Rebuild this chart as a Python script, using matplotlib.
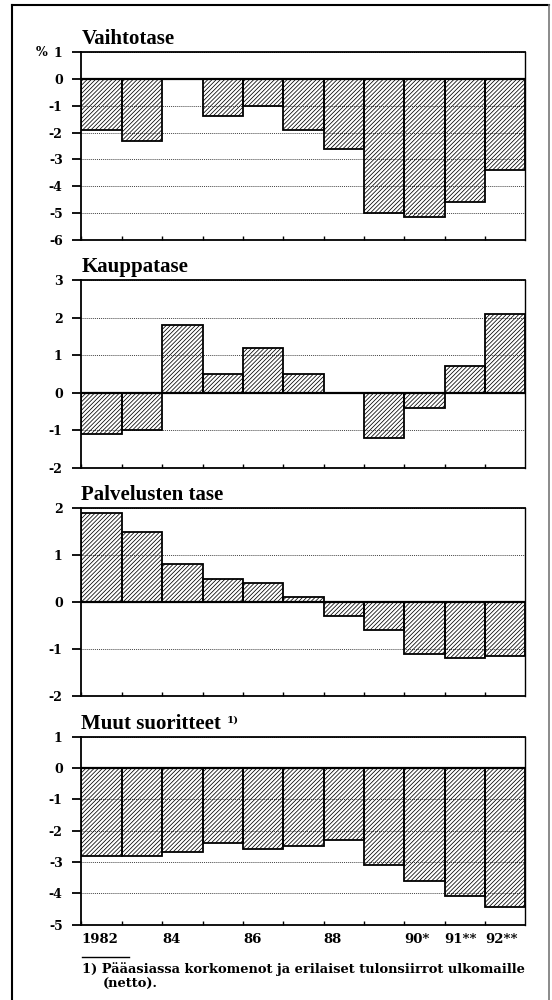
import numpy as np
import matplotlib
matplotlib.use("Agg")
import matplotlib.pyplot as plt
from matplotlib.lines import Line2D

# vuodet 1982-1992, % BKT:sta
years = ['1982', '', '84', '', '86', '', '88', '', '90*', '91**', '92**']
vaihtotase = [-1.9, -2.3, 0.0, -1.4, -1.0, -1.9, -2.6, -5.0, -5.15, -4.6, -3.4]
kauppatase = [-1.1, -1.0, 1.8, 0.5, 1.2, 0.5, 0.0, -1.2, -0.4, 0.7, 2.1]
palvelusten = [1.9, 1.5, 0.8, 0.5, 0.4, 0.1, -0.3, -0.6, -1.1, -1.2, -1.15]
muut = [-2.8, -2.8, -2.7, -2.4, -2.6, -2.5, -2.3, -3.1, -3.6, -4.1, -4.45]

titles = ['Vaihtotase', 'Kauppatase', 'Palvelusten tase', 'Muut suoritteet']
series = [vaihtotase, kauppatase, palvelusten, muut]
ylims = [(-6, 1), (-2, 3), (-2, 2), (-5, 1)]

plt.rcParams['font.family'] = 'DejaVu Serif'
plt.rcParams['font.weight'] = 'bold'
plt.rcParams['axes.unicode_minus'] = False
plt.rcParams['hatch.linewidth'] = 0.55

fig = plt.figure(figsize=(5.52, 10), dpi=100)
bottoms = [0.760, 0.532, 0.304, 0.0755]
x = np.arange(len(years))

for k in range(4):
    ax = fig.add_axes([0.1476, bottoms[k], 0.8043, 0.188])
    ax.bar(x, series[k], width=1.0, facecolor='none', edgecolor='black',
           hatch='////////', linewidth=1.3, zorder=3)
    ax.set_xlim(-0.5, 10.5)
    lo, hi = ylims[k]
    ax.set_ylim(lo, hi)
    ax.set_yticks(np.arange(lo, hi + 1))
    ax.yaxis.grid(True, linestyle=(0, (1, 1)), color='#444444', linewidth=0.7)
    ax.axhline(0, color='black', lw=1.6, zorder=4)
    for s in ax.spines.values():
        s.set_linewidth(1.3)
    ax.spines['right'].set_linewidth(1.0)
    ax.tick_params(axis='y', direction='out', length=6.5, width=1.3, pad=7, labelsize=9)
    ax.set_xticks(x - 0.5)
    ax.tick_params(axis='x', direction='in', length=3, width=1.0, labelsize=9.5, pad=6)
    if k == 3:
        ax.set_xticklabels(years, ha='left')
    else:
        ax.tick_params(axis='x', labelbottom=False)
    t = ax.annotate(titles[k], xy=(0, 1), xycoords='axes fraction', xytext=(0, 5.5),
                    textcoords='offset points', va='baseline', ha='left',
                    family='Liberation Serif', weight='bold', size=15)
    if k == 0:
        ax.annotate('%', xy=(0, 1), xycoords=('axes fraction', 'data'), xytext=(-29, 0),
                    textcoords='offset points', ha='center', va='center', size=9)
    if k == 3:
        ax.annotate('1)', xy=(1, 0.45), xycoords=t, xytext=(4, 0),
                    textcoords='offset points', ha='left', va='bottom', size=7.5)

# alaviite
fig.add_artist(Line2D([82 / 552, 129 / 552], [0.043, 0.043], color='black', lw=1.0))
fig.text(82 / 552, 0.027, '1) Pääasiassa korkomenot ja erilaiset tulonsiirrot ulkomaille',
         size=9.4, va='baseline', ha='left')
fig.text(103 / 552, 0.0125, '(netto).', size=9.4, va='baseline', ha='left')

# kehys
fig.add_artist(Line2D([12 / 552, 12 / 552], [0, 0.995], color='black', lw=1.5))
fig.add_artist(Line2D([12 / 552, 549 / 552], [0.995, 0.995], color='black', lw=1.5))
fig.add_artist(Line2D([549 / 552, 549 / 552], [0, 0.995], color='#777777', lw=1.2))

fig.savefig('out.png', dpi=100)
